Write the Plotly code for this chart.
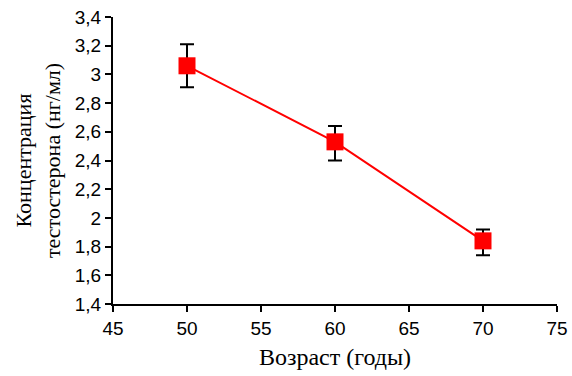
import plotly.graph_objects as go

age = [50, 60, 70]
testosterone = [3.06, 2.53, 1.84]
err_plus = [0.15, 0.11, 0.08]
err_minus = [0.15, 0.13, 0.10]
y_ticks = [1.4, 1.6, 1.8, 2.0, 2.2, 2.4, 2.6, 2.8, 3.0, 3.2, 3.4]
y_tick_labels = ["1,4", "1,6", "1,8", "2", "2,2", "2,4", "2,6", "2,8", "3", "3,2", "3,4"]
x_ticks = [45, 50, 55, 60, 65, 70, 75]

fig = go.Figure()
fig.add_trace(go.Scatter(
    x=age, y=testosterone, mode="lines+markers",
    line=dict(color="#ff0000", width=2),
    marker=dict(symbol="square", size=17, color="#ff0000"),
    error_y=dict(type="data", array=err_plus, arrayminus=err_minus,
                 color="black", thickness=2, width=7),
    showlegend=False,
))

fig.update_layout(
    width=572, height=376,
    margin=dict(l=113, r=15, t=17, b=72),
    plot_bgcolor="white", paper_bgcolor="white",
    font=dict(family="Liberation Sans, Arial", size=19, color="black"),
)
fig.update_xaxes(
    range=[45, 75], tickvals=x_ticks, showgrid=False, zeroline=False,
    showline=True, linecolor="black", linewidth=2, automargin=False,
    ticks="outside", ticklen=6, tickwidth=2, tickcolor="black",
    title=dict(text="Возраст (годы)", font=dict(family="Liberation Serif, Times New Roman", size=24), standoff=10),
)
fig.update_yaxes(
    range=[1.4, 3.4], tickvals=y_ticks, ticktext=y_tick_labels,
    showgrid=False, zeroline=False, automargin=False,
    showline=True, linecolor="black", linewidth=2,
    ticks="outside", ticklen=6, tickwidth=2, tickcolor="black",
    title=dict(text="Концентрация<br>тестостерона (нг/мл)",
               font=dict(family="Liberation Serif, Times New Roman", size=22), standoff=8),
)

fig.write_html("out.html")
